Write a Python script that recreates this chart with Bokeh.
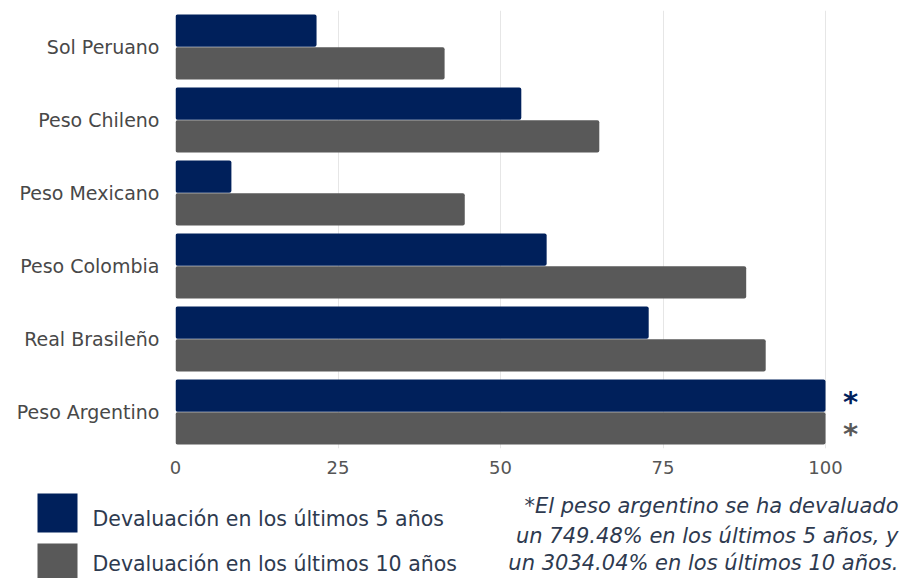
from bokeh.plotting import figure
from bokeh.models import FactorRange, Range1d, FixedTicker, ColumnDataSource
from bokeh.transform import dodge
from bokeh.layouts import column
from bokeh.embed import file_html
from bokeh.resources import INLINE
from bokeh.core.properties import value

categories = ["Sol Peruano", "Peso Chileno", "Peso Mexicano", "Peso Colombia", "Real Brasileño", "Peso Argentino"]
dev_5 = [21.7, 53.2, 8.6, 57.1, 72.8, 100]
dev_10 = [41.4, 65.2, 44.5, 87.8, 90.8, 100]
series = ["Devaluación en los últimos 5 años", "Devaluación en los últimos 10 años"]
colors = ["#00205b", "#595959"]
x_ticks = [0, 25, 50, 75, 100]
note_lines = ["*El peso argentino se ha devaluado",
              "un 749.48% en los últimos 5 años, y",
              "un 3034.04% en los últimos 10 años."]

FONT = "DejaVu Sans"
W = 907

p = figure(width=W, height=480, y_range=FactorRange(factors=categories[::-1]),
           x_range=Range1d(0, 110), output_backend="svg", toolbar_location=None,
           min_border_left=175, min_border_right=17, min_border_top=10, min_border_bottom=32)
p.outline_line_color = None
p.frame_align = False

src = ColumnDataSource(dict(cat=categories, v5=dev_5, v10=dev_10))
p.hbar(y=dodge("cat", 0.225, range=p.y_range), left=0, right="v5", height=0.44,
       fill_color=colors[0], line_color=None, border_radius=2, source=src)
p.hbar(y=dodge("cat", -0.225, range=p.y_range), left=0, right="v10", height=0.44,
       fill_color=colors[1], line_color=None, border_radius=2, source=src)

# asterisks for values beyond the scale
for vals, off, col in [(dev_5, 0.225, colors[0]), (dev_10, -0.225, colors[1])]:
    cats = [c for c, v in zip(categories, vals) if v >= 100]
    xs = [v for v in vals if v >= 100]
    s = ColumnDataSource(dict(cat=cats, x=xs, t=["*"] * len(cats)))
    p.text(x="x", y=dodge("cat", off, range=p.y_range), text="t", x_offset=25, y_offset=6,
           text_align="center", text_baseline="middle", text_color=col,
           text_font=value(FONT), text_font_size="29px", text_font_style="bold", source=s)

p.xaxis.ticker = FixedTicker(ticks=x_ticks)
p.xgrid.ticker = FixedTicker(ticks=x_ticks)
p.xgrid.grid_line_color = "#e6e6e6"
p.ygrid.grid_line_color = None
for ax in (p.xaxis, p.yaxis):
    ax.axis_line_color = None
    ax.major_tick_line_color = None
    ax.minor_tick_line_color = None
    ax.major_label_text_font = FONT
p.xaxis.major_label_text_font_size = "18px"
p.xaxis.major_label_text_color = "#555555"
p.xaxis.major_label_standoff = 6
p.yaxis.major_label_text_font_size = "19px"
p.yaxis.major_label_text_color = "#484848"
p.yaxis.major_label_standoff = 10

q = figure(width=W, height=98, x_range=Range1d(0, W), y_range=Range1d(98, 0),
           x_axis_type=None, y_axis_type=None, min_border=0, toolbar_location=None,
           output_backend="svg")
q.outline_line_color = None
q.frame_align = False

n = len(series)
leg = ColumnDataSource(dict(name=series, col=colors,
                            top=[13 + 50 * i for i in range(n)],
                            bot=[52 + 50 * i for i in range(n)],
                            ty=[38 + 45 * i for i in range(n)]))
q.quad(left=37, right=77, top="top", bottom="bot", fill_color="col", line_color=None, source=leg)
q.text(x=92, y="ty", text="name", text_baseline="alphabetic", text_align="left",
       text_color="#2e3a4f", text_font=value(FONT), text_font_size="20.5px", source=leg)

note = ColumnDataSource(dict(t=note_lines, y=[25, 55, 82]))
q.text(x=898, y="y", text="t", text_baseline="alphabetic", text_align="right",
       text_color="#2e3a4f", text_font=value(FONT), text_font_size="21px",
       text_font_style="italic", source=note)

layout = column(p, q, spacing=0)
open("out.html", "w").write(file_html(layout, INLINE))
